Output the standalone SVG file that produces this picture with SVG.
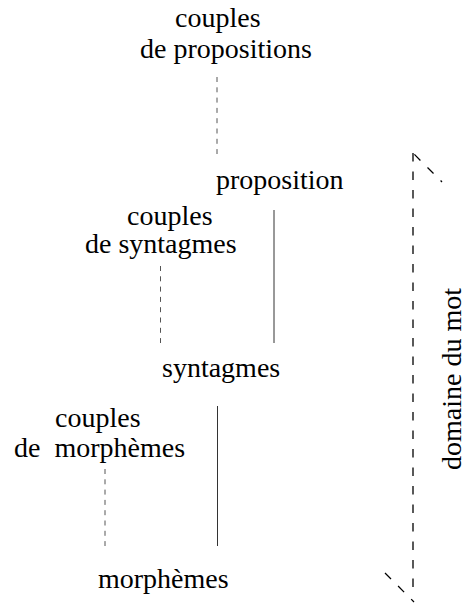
<svg xmlns="http://www.w3.org/2000/svg" width="464" height="603" viewBox="0 0 464 603">
<style>
text{font-family:"Liberation Serif","Times New Roman",Times,serif;font-size:28px;fill:#000;white-space:pre}
.dash{stroke:#555;stroke-width:1;stroke-dasharray:5 5.3;fill:none}
.solid{stroke:#333;stroke-width:1;fill:none}
.br{stroke:#000;stroke-width:1.3;stroke-dasharray:8.5 10;fill:none}
</style>
<rect width="464" height="603" fill="#fff"/>
<g id="couples-propositions">
<text x="175" y="26.5">couples</text>
<text x="140" y="57.5">de propositions</text>
</g>
<g id="proposition">
<text x="216" y="189">proposition</text>
</g>
<g id="couples-syntagmes">
<text x="127" y="224.5">couples</text>
<text x="85" y="253">de syntagmes</text>
</g>
<g id="syntagmes">
<text x="162" y="377">syntagmes</text>
</g>
<g id="couples-morphemes">
<text x="55" y="426.5">couples</text>
<text x="14" y="457.3">de  morphèmes</text>
</g>
<g id="morphemes">
<text x="98" y="588">morphèmes</text>
</g>
<g id="domaine">
<text transform="translate(461,470) rotate(-90)">domaine du mot</text>
</g>
<g id="connectors">
<line class="dash" x1="217" y1="77" x2="217" y2="154"/>
<line class="solid" x1="274" y1="210" x2="274" y2="343"/>
<line class="dash" x1="160.5" y1="266" x2="160.5" y2="343"/>
<line class="solid" x1="217.5" y1="406" x2="217.5" y2="546"/>
<line class="dash" x1="105" y1="469" x2="105" y2="546"/>
<line class="br" x1="413" y1="153" x2="413" y2="594"/>
<line class="br" x1="413" y1="153" x2="442" y2="182" stroke-dashoffset="-2"/>
<line class="br" x1="385" y1="573" x2="414" y2="602"/>
</g>
</svg>
